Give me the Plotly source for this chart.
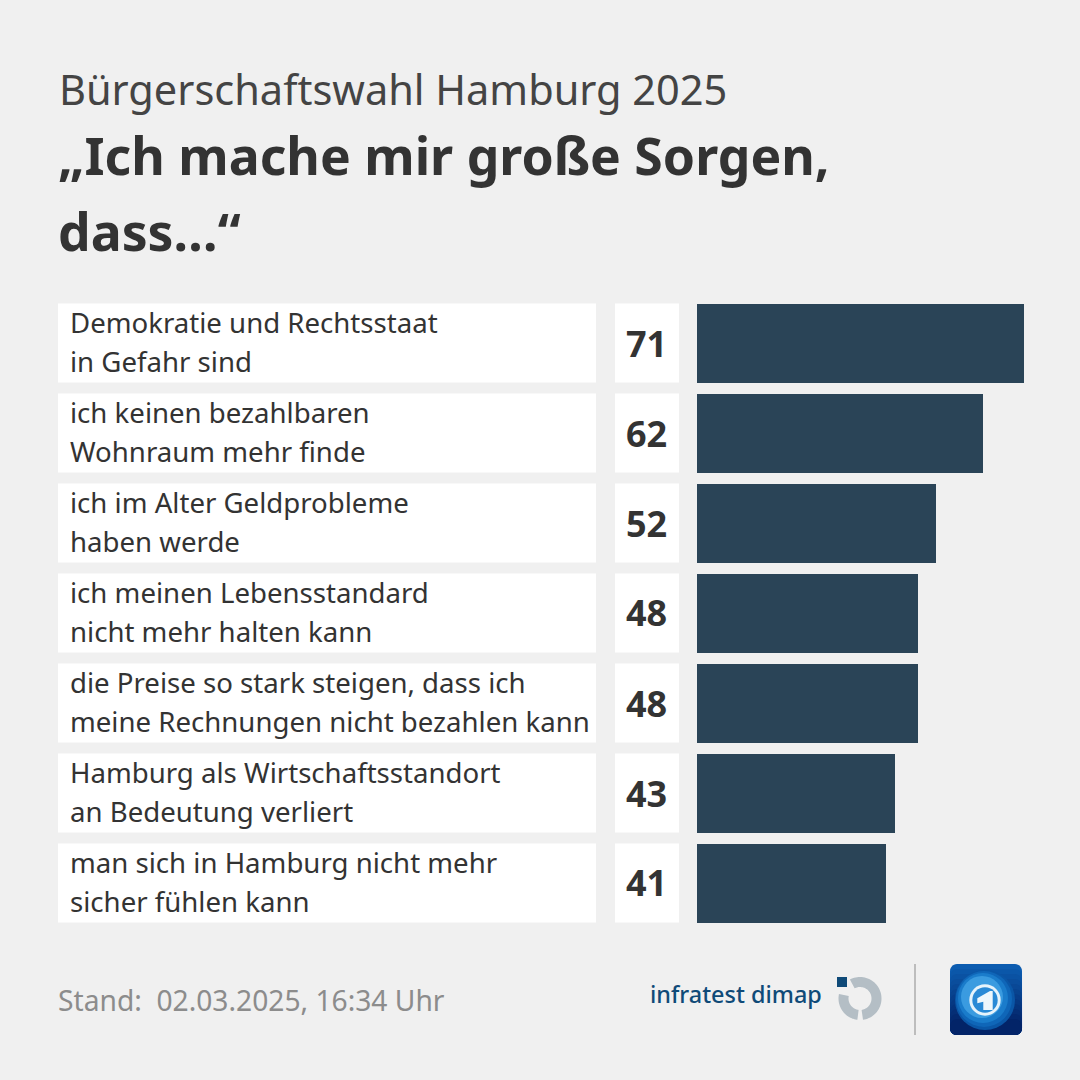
import numpy as np
import plotly.graph_objects as go

subtitle = "Bürgerschaftswahl Hamburg 2025"
title_lines = ["„Ich mache mir große Sorgen,", "dass…“"]
labels_a = ["Demokratie und Rechtsstaat", "ich keinen bezahlbaren", "ich im Alter Geldprobleme",
            "ich meinen Lebensstandard", "die Preise so stark steigen, dass ich",
            "Hamburg als Wirtschaftsstandort", "man sich in Hamburg nicht mehr"]
labels_b = ["in Gefahr sind", "Wohnraum mehr finde", "haben werde", "nicht mehr halten kann",
            "meine Rechnungen nicht bezahlen kann", "an Bedeutung verliert", "sicher fühlen kann"]
values = [71, 62, 52, 48, 48, 43, 41]
stand = "Stand:  02.03.2025, 16:34 Uhr"
FONT = "Noto Sans"
DARK = "#333333"
W = 1080

def px(v): return v / W
def py(v): return 1 - v / W

rows = list(range(len(values)))
fig = go.Figure(go.Bar(x=values, y=rows, orientation="h", width=79/90,
                       marker=dict(color="#2a4457", line_width=0), hoverinfo="skip"))
shapes = []
ann = []
def text(x, y, s, size, color=DARK, bold=False, anchor="left", weight=None):
    f = dict(family=FONT, size=size, color=color)
    if weight: f["weight"] = weight
    ann.append(dict(x=px(x), y=py(y), xref="paper", yref="paper", text=f"<b>{s}</b>" if bold else s,
                    showarrow=False, xanchor=anchor, yanchor="middle",
                    font=f, borderpad=0, borderwidth=0))

for i in rows:
    for x0, x1 in ((58, 596), (615, 679)):
        shapes.append(dict(type="rect", xref="paper", yref="y", x0=px(x0), x1=px(x1),
                           y0=i-79/180, y1=i+79/180, fillcolor="white", line_width=0, layer="below"))
    yc = 343.5 + 90*i
    text(69.5, yc-21.5, labels_a[i], 27.6)
    text(69.5, yc+17.5, labels_b[i], 27.6)
    text(646.5, yc-0.5, str(values[i]), 36, bold=True, anchor="center")

text(58.5, 88.5, subtitle, 41.5, color="#444444")
text(58, 155, title_lines[0], 51.7, bold=True)
text(58, 231, title_lines[1], 51.7, bold=True)
text(58, 999.5, stand, 28.2, color="#8c8c8c")
text(650, 994, "infratest dimap", 23.4, color="#0f4a78", weight=500)

def poly(pts):
    return "M" + "L".join(f"{px(a):.5f},{py(b):.5f}" for a, b in pts) + "Z"
def paper(kind, x0, y0, x1, y1, fill):
    shapes.append(dict(type=kind, xref="paper", yref="paper", x0=px(x0), x1=px(x1), y0=py(y0), y1=py(y1),
                       fillcolor=fill, line_width=0, layer="above"))
def arc(cx, cy, R, r, a0, a1):
    t = np.radians(np.linspace(a0, a1, 50))
    o = [(cx+R*np.sin(a), cy-R*np.cos(a)) for a in t]
    n = [(cx+r*np.sin(a), cy-r*np.cos(a)) for a in t[::-1]]
    return poly(o+n)

# infratest dimap mark
paper("rect", 837, 977, 847, 987, "#0f4a78")
for a0, a1 in ((-28, 172), (187, 282)):
    shapes.append(dict(type="path", xref="paper", yref="paper", path=arc(860, 998.5, 21.5, 11.5, a0, a1),
                       fillcolor="#b4bec5", line_width=0))
# divider
paper("rect", 914, 964, 916, 1035, "#bdbdbd")
# tagesschau mark
def rrect(x0, y0, x1, y1, r):
    pts = []
    for cx, cy, a0 in ((x1-r, y0+r, 0), (x1-r, y1-r, 90), (x0+r, y1-r, 180), (x0+r, y0+r, 270)):
        for a in np.radians(np.linspace(a0, a0+90, 8)):
            pts.append((cx+r*np.sin(a), cy-r*np.cos(a)))
    return poly(pts)
top = np.array([12, 92, 176]); bot = np.array([3, 36, 104])
for k in range(12):
    c = top + (bot-top)*k/11
    shapes.append(dict(type="path", xref="paper", yref="paper",
                       path=rrect(950, 964+k*5, 1022, 1035, 7),
                       fillcolor=f"rgb({c[0]:.0f},{c[1]:.0f},{c[2]:.0f})", line_width=0))
for r, dx, dy, c in ((30, 0, 0, "#0a56a6"), (28, -1, -1, "#0f66b8"), (25, -2, -2, "#1a7ccb"), (21, -3, -3, "#3a9be0")):
    paper("circle", 985+dx-r, 1000+dy-r, 985+dx+r, 1000+dy+r, c)
paper("circle", 969.3, 984.3, 1000.7, 1015.7, "#e6f3fb")
paper("circle", 972.3, 987.3, 997.7, 1012.7, "#2a8ad6")
shapes.append(dict(type="path", xref="paper", yref="paper", fillcolor="#eef7fc", line_width=0,
                   path=poly([(977.3, 998.3), (990, 991), (992.7, 991), (992.7, 1010),
                              (983.3, 1010), (983.3, 1001.7), (977.3, 1003.3)])))

fig.update_layout(
    width=W, height=W, margin=dict(l=0, r=0, t=0, b=0), autosize=False,
    paper_bgcolor="#f0f0f0", plot_bgcolor="rgba(0,0,0,0)", showlegend=False, bargap=0,
    xaxis=dict(domain=[px(697), px(1024)], range=[0, 71], visible=False, fixedrange=True),
    yaxis=dict(domain=[py(928.1), py(298.1)], range=[6.5, -0.5], visible=False, fixedrange=True),
    shapes=shapes, annotations=ann,
)
fig.write_html("out.html", config=dict(displayModeBar=False),
               post_script="document.body.style.margin='0';document.body.style.background='#f0f0f0';document.body.style.overflow='hidden';")
